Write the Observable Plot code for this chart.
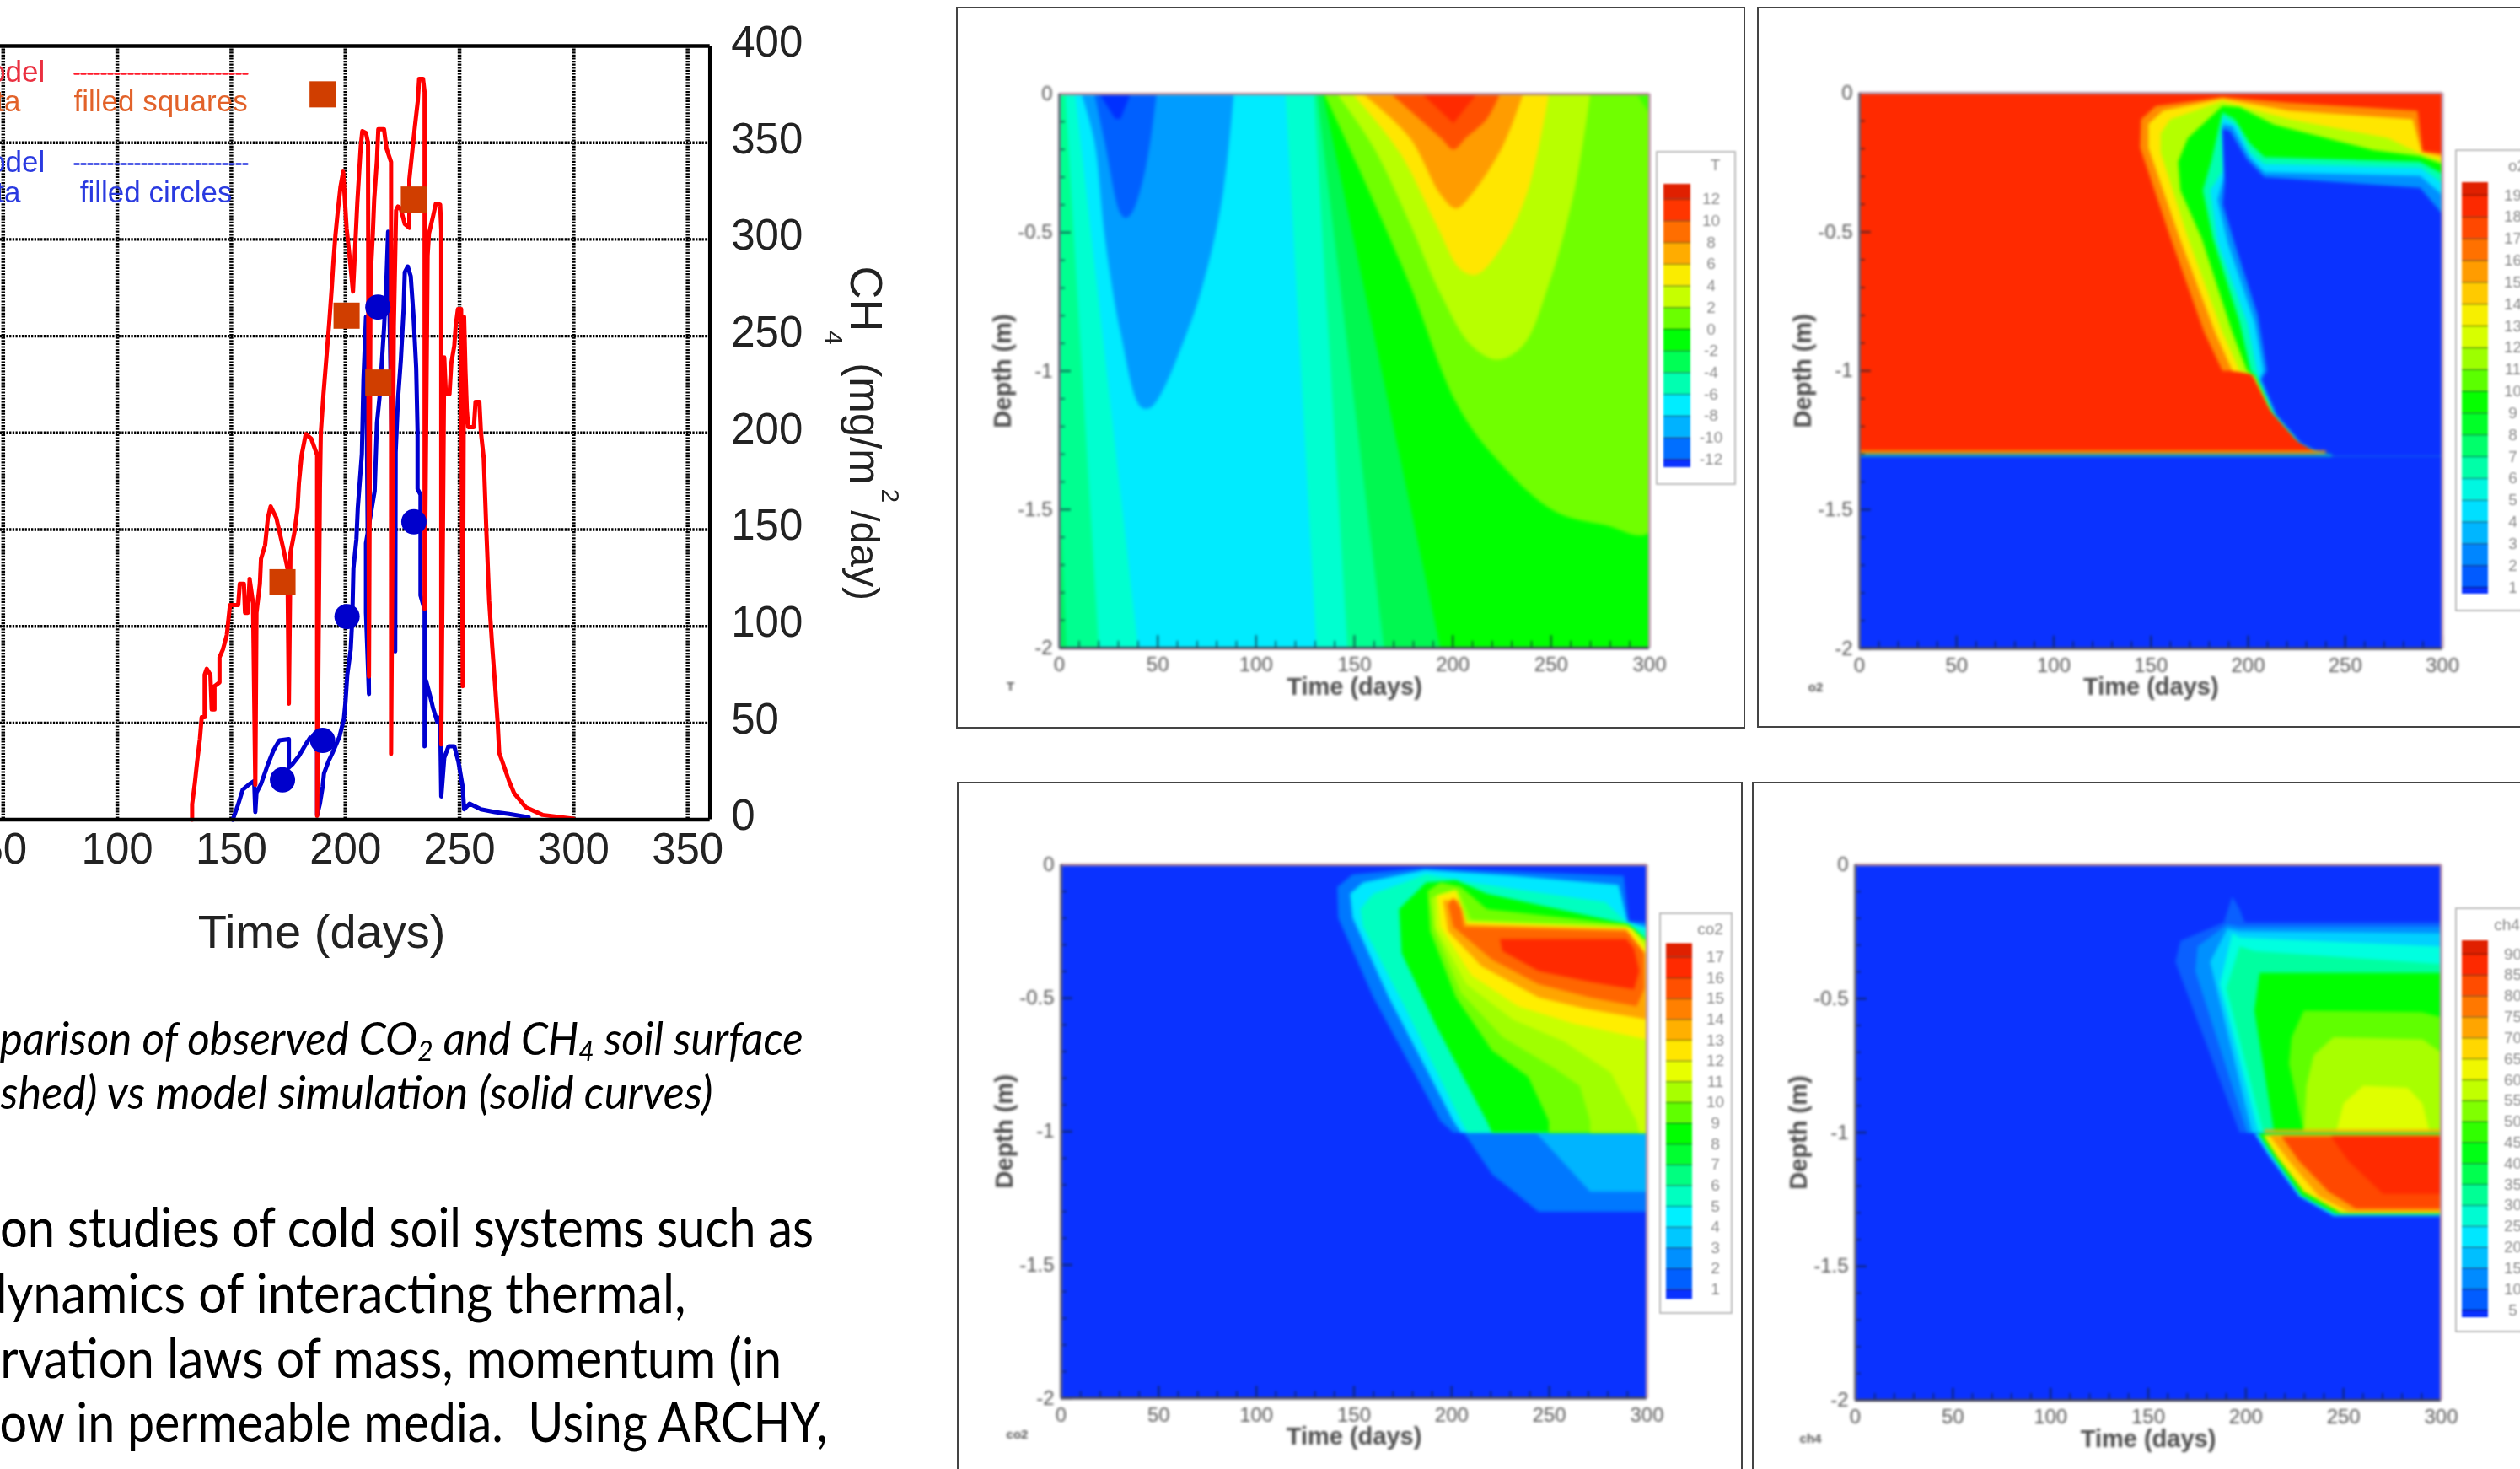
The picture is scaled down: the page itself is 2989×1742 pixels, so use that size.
<!DOCTYPE html>
<html><head><meta charset="utf-8">
<script src="https://cdn.jsdelivr.net/npm/d3@7"></script>
<script src="https://cdn.jsdelivr.net/npm/@observablehq/plot@0.6"></script>
<style>
html,body{margin:0;padding:0;background:#fff}
#page{position:relative;width:2989px;height:1742px;overflow:hidden;background:#fff}
#page svg{position:absolute;max-width:none}
.frame{position:absolute;border:2.5px solid #444;box-sizing:border-box;filter:blur(.5px)}
.t{position:absolute;white-space:pre;line-height:1;font-family:Lato,sans-serif;color:#000;transform-origin:right center}
.t sub{font-size:.62em;line-height:0;vertical-align:-.22em}
</style></head><body><div id="page"></div>
<script>
// ---------- left chart data (day, CH4 flux) ----------
const redModel=[[132.8,0],[132.8,8],[134,19],[135,30],[136.2,41.7],[137,53],[138.3,53],[138.3,75],[139.2,78],[140.8,75],[141.4,57],[142.6,57],[142.6,69],[144.8,71],[144.8,84],[146.3,88],[148,95.5],[149.4,111],[153,111],[153.7,122],[155.5,122],[156,107],[157.2,107],[158,124.5],[159.5,112],[160.5,18],[161,107],[162.5,122],[163,135],[164.8,142],[166,156],[167.2,162],[169.7,156],[172.8,140],[174.6,130],[175.2,60],[175.9,138],[177.7,149],[179,161],[179.6,174],[180.8,188.5],[182.6,199.4],[185,197],[187.6,188.5],[187.6,2],[188.8,171],[189.2,200],[190.4,220.5],[191.6,238],[192.9,257],[194,275],[194.7,288],[195.6,302],[196.6,314],[197.8,327],[199,335],[200.5,306],[202,289],[203.3,273],[204.2,294.5],[205.2,319],[206.7,348],[207.4,356],[209,355],[209.9,350],[210.3,74],[211,280],[212,303],[212.6,320.6],[213.8,341],[214.4,357],[216.9,357],[218,347],[220,340],[220,34],[221.2,255],[222.2,315],[223,317],[224.2,316],[226,308],[228,306],[228,331],[230.4,358],[231.7,371.5],[232.3,383],[234,383],[234.7,376],[234.7,109],[236,291.6],[236.6,303],[238.4,312],[239.6,318.5],[241.5,318],[242,305],[242,39],[243.3,239],[244,220],[245.6,220],[246.4,236],[247.7,245],[248.3,255],[249.3,264],[250.7,264],[251.4,69],[252,260],[252.6,232],[253.2,212],[253.8,203],[256.3,203],[257,216],[258.7,216],[259.4,200],[260.6,187],[261.8,148],[263,113],[264.3,90],[265.5,71],[266.7,50.4],[267.4,34.5],[269.2,28.6],[271.7,20],[274,13.6],[279,6.5],[286.4,2.5],[300,.5]];
const blueModel=[[150.6,0],[153,8],[155,15.6],[158,18.5],[160,20],[160.5,4],[161,14],[163,18.5],[166,28.6],[168.5,36],[171,41],[175.2,41.7],[175.2,27],[177,29],[179.6,33],[182.6,39],[184.5,42.4],[187.6,42],[187.6,2.5],[188.8,8.3],[190,17],[190.6,24],[192.5,30],[194.3,34.5],[197.4,43],[199.3,52],[200,60.6],[200.8,75],[202.3,88],[203,104],[203.5,130],[204.8,145],[205.4,161],[207.2,189],[207.9,227.6],[209,260],[210.3,65],[209,107],[209,143],[212.8,170],[213.8,205],[215,219],[216.9,254],[218,280],[218.7,304],[219.5,250],[221.8,87],[222,190],[223,217],[224.3,238],[225.5,264],[226,283],[227.3,286],[228.6,281],[229.8,261],[231,233.5],[231.6,201],[231.6,171],[232.9,168],[232.9,116],[234.7,108.6],[234.7,38],[235.3,72],[237.2,63.5],[238.4,57.7],[240.3,50.4],[241.5,53],[242,12],[243.3,32],[245.2,38],[247.7,38],[249.5,30],[251.4,17],[252,5.4],[254.4,8.3],[259.4,5.4],[265.5,4],[271.7,3],[280.3,1.3]];
const squareData=[[190,375],[230,320.6],[200.5,260.6],[214.4,226],[172.4,122.8]];
const circleData=[[172.4,20.6],[190,41],[200.7,105],[230,154],[214.2,265]];
const fluxDayTicks=[50,100,150,200,250,300,350];
const fluxValueTicks=[0,50,100,150,200,250,300,350,400];

// ---------- contour panels: painter-ordered bands [colour, [[day,depth],...], smooth?] ----------
const tempBands=[
["#00ffd0",[[0,0],[8,0],[40,-2],[0,-2]]],
["#00ff90",[[0,0],[3,0],[20,-2],[0,-2]]],
["#00f060",[[0,-1.4],[3.5,-2],[0,-2]]],
["#009cff",[[11.3,0],[17.9,-.174],[23.1,-.515],[31,-.857],[41.5,-1.13],[46.7,-1.13],[65.1,-.857],[75.6,-.618],[83.5,-.345],[88.7,0]],true],
["#0060ff",[[17.9,0],[23.1,-.174],[31,-.43],[33.6,-.447],[36.8,-.43],[44.1,-.26],[49.4,0]],true],
["#0030ff",[[20.5,0],[28.4,-.09],[31,-.09],[36.2,0]]],
["#00ffd0",[[115,0],[130.7,-2],[300,-2],[300,0]]],
["#00ff90",[[129.4,0],[146.5,-2],[300,-2],[300,0]]],
["#00f850",[[131,0],[165,-2],[300,-2],[300,0]]],
["#00ff00",[[134,0],[193.7,-2],[300,-2],[300,0]]],
["#70ff00",[[134.7,0],[151.7,-.26],[178,-.686],[201.6,-1.113],[220,-1.3],[251.5,-1.505],[277.7,-1.556],[300,-1.582],[300,0]],true],
["#40ff00",[[293.5,0],[300,-.07],[300,0]]],
["#b8ff00",[[141.2,0],[159.6,-.191],[178,-.464],[193.7,-.72],[209.5,-.908],[222.6,-.959],[235.7,-.908],[248.9,-.686],[262,-.345],[269.9,0]],true],
["#ffe600",[[149.1,0],[172.7,-.208],[191.1,-.464],[204.2,-.635],[212.1,-.652],[225.2,-.549],[238.4,-.345],[248.9,0]],true],
["#ff9c00",[[154.4,0],[178,-.157],[193.7,-.362],[201.6,-.413],[209.5,-.362],[225.2,-.191],[235.7,0]],true],
["#ff5000",[[168.8,0],[193.7,-.157],[200.3,-.2],[206.9,-.157],[217.4,-.089],[223.9,0]],true],
["#ff2a00",[[184.5,0],[200.3,-.106],[212.1,0]]]
];
const o2Bands=[
["#ff2a00",[[-10,.05],[310,.05],[310,-1.3],[-10,-1.3]]],
["#ff8c00",[[186.8,-.014],[152.5,-.046],[144.9,-.094],[144.4,-.196],[160,-.52],[177.4,-.861],[186.8,-1],[201.3,-1],[211,-1.134],[223.7,-1.236],[236.4,-1.296],[244,-1.301],[300,-1.301],[300,-.217],[289.8,-.21],[287.2,-.063],[221.2,-.034]]],
["#ffe600",[[186.8,-.02],[156.3,-.063],[148.7,-.111],[148.7,-.196],[164.7,-.52],[183,-.861],[191.9,-1],[202.1,-1.008],[211.5,-1.134],[224.2,-1.236],[236.4,-1.291],[243.5,-1.301],[300,-1.301],[300,-.227],[289.3,-.213],[284.7,-.094],[221.2,-.063]]],
["#b4ff00",[[186.8,-.029],[160,-.094],[155,-.145],[155,-.213],[169,-.52],[186.8,-.861],[195.7,-1],[202.9,-1.014],[211.8,-1.14],[224.5,-1.24],[236.4,-1.293],[242.8,-1.301],[300,-1.301],[300,-.244],[288.5,-.218],[272,-.162],[221.2,-.094]]],
["#00ff00",[[186.8,-.046],[169,-.162],[164,-.247],[165.2,-.35],[176,-.52],[191.9,-.861],[199.5,-1],[203.4,-1.018],[212.3,-1.147],[225,-1.245],[236.4,-1.296],[242.3,-1.301],[300,-1.301],[300,-.256],[288.5,-.227],[264.4,-.205],[213.5,-.114],[195.7,-.051]]],
["#00ffb0",[[186.8,-.068],[181,-.247],[176.7,-.35],[181.8,-.52],[195.7,-.827],[201.3,-1],[204.6,-1.023],[212.8,-1.15],[225.5,-1.25],[236.8,-1.297],[241.5,-1.303],[300,-1.303],[300,-.29],[288.5,-.247],[208.4,-.23],[200.8,-.179],[193.2,-.094]]],
["#00e0ff",[[186.8,-.085],[186.8,-.281],[180.5,-.35],[184.3,-.537],[199.5,-.827],[204.6,-1],[205.4,-1.028],[213.3,-1.15],[226,-1.25],[238,-1.297],[244,-1.303],[300,-1.303],[300,-.324],[288.5,-.268],[208.4,-.256],[200.8,-.213],[194.5,-.119]]],
["#0090ff",[[186.8,-.111],[187.6,-.298],[184.3,-.384],[189.4,-.537],[203.4,-.827],[207.9,-1],[206,-1.03],[214,-1.155],[226.5,-1.255],[238.5,-1.3],[245,-1.305],[300,-1.305],[300,-.367],[288.5,-.298],[208.4,-.285],[200.8,-.23],[191.9,-.119]]],
["#0a32ff",[[186.8,-.128],[188,-.32],[187,-.4],[193,-.54],[205,-.8],[209.7,-1],[207,-1.03],[214.6,-1.158],[227,-1.258],[239,-1.305],[245.3,-1.31],[300,-1.31],[300,-.435],[288.5,-.341],[208.4,-.302],[199.5,-.239],[190.6,-.136]]],
["#f0a000",[[0,-1.288],[240,-1.288],[240,-1.3],[0,-1.3]]],
["#00c8c0",[[0,-1.3],[243,-1.3],[243,-1.308],[0,-1.308]]]
];
const co2Bands=[
["#0078ff",[[206.2,-1.004],[220.7,-1.16],[244.5,-1.301],[300,-1.301],[300,-1.004]]],
["#00b4ff",[[243.2,-1.004],[270.9,-1.226],[300,-1.226],[300,-1.004]]],
["#0078ff",[[186.3,-.012],[149.3,-.036],[141.4,-.083],[141.9,-.199],[159.9,-.497],[194.3,-.961],[200.9,-1.004],[300,-1.004],[300,-.215],[290.7,-.212],[288.1,-.041]]],
["#00e8ff",[[186.3,-.02],[154.6,-.066],[148,-.108],[149.3,-.199],[167.8,-.497],[200.9,-.961],[204.8,-1.004],[300,-1.004],[300,-.232],[290,-.215],[285.4,-.075],[231.3,-.041]]],
["#00ffc0",[[186.9,-.036],[159.9,-.108],[153.3,-.166],[154.6,-.232],[175.8,-.53],[204.8,-.961],[208,-1.004],[300,-1.004],[300,-.249],[289.4,-.215],[278.8,-.141],[218,-.075]]],
["#00ff00",[[186.9,-.066],[173.1,-.166],[174.4,-.331],[191.6,-.597],[218,-.961],[220.7,-1.004],[300,-1.004],[300,-.282],[290.7,-.224],[218,-.108],[202.2,-.058]]],
["#70ff00",[[187.7,-.099],[189,-.249],[202.2,-.497],[220.7,-.696],[239.2,-.795],[249.8,-.961],[249.8,-1.004],[300,-1.004],[300,-.285],[289.4,-.224],[218,-.166],[204.8,-.083],[194.3,-.066]]],
["#a0ff00",[[189,-.124],[191.6,-.249],[204.8,-.48],[226,-.646],[252.4,-.762],[265.6,-.829],[270.9,-.961],[270.9,-1.004],[300,-1.004],[300,-.29],[289.4,-.229],[210.1,-.207],[203.5,-.099]]],
["#c8ff00",[[191.6,-.116],[191.6,-.232],[207.5,-.447],[231.3,-.58],[257.7,-.663],[281.5,-.779],[294.7,-.961],[296,-1.004],[300,-1.004],[300,-.298],[290.7,-.232],[207.5,-.212],[202.2,-.091]]],
["#ffee00",[[192.9,-.116],[194.3,-.232],[210.1,-.414],[233.9,-.53],[263,-.597],[300,-.655],[300,-.323],[292,-.24],[207.5,-.215],[202.2,-.099]]],
["#ffa500",[[195.6,-.133],[198.2,-.249],[215.4,-.381],[244.5,-.497],[268.3,-.539],[300,-.58],[298.7,-.331],[289.4,-.24],[207.5,-.224],[203.5,-.133]]],
["#ff6600",[[198.2,-.149],[200.9,-.232],[220.7,-.356],[244.5,-.447],[270.9,-.497],[294.7,-.53],[298.7,-.464],[298.7,-.331],[289.4,-.249],[206.2,-.232],[204.8,-.166],[200.9,-.124]]],
["#ff2a00",[[224.7,-.278],[226,-.323],[244.5,-.398],[270.9,-.439],[293.4,-.467],[296,-.398],[293.4,-.315],[289.4,-.278]]]
];
const ch4Bands=[
["#0a60ff",[[193,-.119],[188.7,-.215],[166.5,-.284],[163.9,-.363],[196.8,-1],[300,-1],[300,-.215],[199.4,-.215],[196.8,-.165]]],
["#0090ff",[[190.5,-.223],[175.3,-.305],[174.1,-.396],[200.6,-1],[300,-1],[300,-.231],[196.8,-.231]]],
["#00d0ff",[[190.5,-.239],[181.7,-.363],[203.2,-1],[300,-1],[300,-.256],[196.8,-.248]]],
["#00ffe0",[[193,-.256],[186.7,-.446],[206.4,-1],[300,-1],[300,-.305],[196.8,-.272]]],
["#00ffa0",[[196.8,-.305],[190,-.462],[209,-1],[300,-1],[300,-.371],[204.4,-.322]]],
["#00ff00",[[207,-.404],[204.4,-.545],[214.5,-1],[300,-1],[300,-.404]]],
["#60ff00",[[229.7,-.545],[223.4,-.644],[222.1,-.743],[229.7,-1],[300,-1],[300,-.569],[290,-.55]]],
["#a8ff00",[[244.9,-.644],[234.8,-.71],[231,-.825],[229.7,-1],[300,-1],[300,-.701],[290.4,-.652]]],
["#e0ff00",[[260.1,-.825],[250,-.891],[246.2,-1],[294.2,-1],[290.4,-.891],[282.9,-.833]]],
["#ffaa00",[[209.5,-.99],[300,-.99],[300,-1.003],[209.5,-1.003]]],
["#00e0ff",[[204.4,-1.003],[212,-1.089],[227.2,-1.238],[244.9,-1.312],[300,-1.312],[300,-1.003]]],
["#00ff00",[[206.4,-1.003],[214,-1.089],[228.5,-1.235],[246.2,-1.304],[300,-1.304],[300,-1.003]]],
["#ffe600",[[209,-1.01],[215.8,-1.089],[229.7,-1.221],[248.7,-1.3],[300,-1.3],[300,-1.01]]],
["#ffa000",[[212,-1.01],[222.1,-1.106],[237.3,-1.238],[252.5,-1.295],[300,-1.295],[300,-1.01]]],
["#ff4800",[[218.3,-1.015],[227.2,-1.106],[242.4,-1.221],[256.3,-1.284],[300,-1.284],[300,-1.015]]],
["#ff2a00",[[243.6,-1.015],[252.5,-1.106],[270.2,-1.229],[300,-1.229],[300,-1.015]]]
];
const dayTicks=[0,50,100,150,200,250,300];
const dayMinor=[10,20,30,40,60,70,80,90,110,120,130,140,160,170,180,190,210,220,230,240,260,270,280,290];
const depthTicks=[0,-.5,-1,-1.5,-2];
const depthMinor=[-.1,-.2,-.3,-.4,-.6,-.7,-.8,-.9,-1.1,-1.2,-1.3,-1.4,-1.6,-1.7,-1.8,-1.9];
const tempLevels=[-12,-10,-8,-6,-4,-2,0,2,4,6,8,10,12];
const o2Levels=[1,2,3,4,5,6,7,8,9,10,11,12,13,14,15,16,17,18,19];
const co2Levels=[1,2,3,4,5,6,7,8,9,10,11,12,13,14,15,16,17];
const ch4Levels=[5,10,15,20,25,30,35,40,45,50,55,60,65,70,75,80,85,90];
const rainbow=["#0a32ff","#0060ff","#0090ff","#00c8ff","#00f0ff","#00ffc0","#00ff80","#00ff30","#00ff00","#60ff00","#a8ff00","#e8ff00","#ffe600","#ffb000","#ff8000","#ff5000","#ff2a00","#e02000"];
const BLUE="#0a32ff", CYAN="#00ebff", SANS="Liberation Sans, Arial, sans-serif";
const page=document.getElementById("page");
function place(svg,left,top,blur){svg.style.left=left+"px";svg.style.top=top+"px";svg.style.filter=blur?`blur(${blur}px)`:"none";svg.style.background="transparent";page.appendChild(svg);return svg;}

// ---------- left chart ----------
const pd=d=>d[0], pv=d=>d[1];
const T={fontFamily:SANS,fill:"#222"};
const flux=Plot.plot({width:1100,height:1150,marginLeft:0,marginRight:258.3,marginTop:54,marginBottom:178.4,
 x:{domain:[48.78,359.8],axis:null},y:{domain:[0,400],axis:null},
 marks:[
  Plot.ruleX([50,100,150,200,250,300,350],{stroke:"#000",strokeWidth:4.5,strokeDasharray:"2.2 1.4"}),
  Plot.ruleY([50,100,150,200,250,300,350],{stroke:"#000",strokeWidth:3.4,strokeDasharray:"2.3 1.4"}),
  Plot.line(blueModel,{x:pd,y:pv,stroke:"#0000d0",strokeWidth:5}),
  Plot.line(redModel,{x:pd,y:pv,stroke:"#ff0000",strokeWidth:5}),
  Plot.dot(circleData,{x:pd,y:pv,r:15,fill:"#0000cc",stroke:"none"}),
  Plot.dot(squareData,{x:pd,y:pv,r:17.5,symbol:"square",fill:"#d03e00",stroke:"none"}),
  Plot.ruleY([0,400],{stroke:"#000",strokeWidth:4.5}),
  Plot.ruleX([359.8],{stroke:"#000",strokeWidth:4.5}),
  Plot.text(fluxDayTicks,{x:d=>d,text:d=>String(d),frameAnchor:"bottom",lineAnchor:"middle",dy:36,fontSize:51,...T}),
  Plot.text(fluxValueTicks,{y:d=>d,text:d=>String(d),frameAnchor:"right",textAnchor:"start",dx:25,dy:-4,fontSize:51,...T}),
  Plot.text(["Time (days)"],{x:()=>189.6,y:()=>-58.6,text:d=>d,fontSize:56,...T}),
  Plot.text(["CH"],{x:()=>428,y:()=>269.2,text:d=>d,rotate:90,fontSize:54,...T}),
  Plot.text(["4"],{x:()=>413.8,y:()=>249.2,text:d=>d,rotate:90,fontSize:30,...T}),
  Plot.text(["(mg/m"],{x:()=>427,y:()=>204.7,text:d=>d,rotate:90,fontSize:51,...T}),
  Plot.text(["2"],{x:()=>438.5,y:()=>167.5,text:d=>d,rotate:90,fontSize:30,...T}),
  Plot.text(["/day)"],{x:()=>427,y:()=>136.7,text:d=>d,rotate:90,fontSize:48,...T}),
  Plot.line([[81.3,385.6],[157,385.6]],{x:pd,y:pv,stroke:"#ff1a2a",strokeWidth:2.5,strokeDasharray:"5 3"}),
  Plot.line([[81.3,339],[157,339]],{x:pd,y:pv,stroke:"#1a2ae0",strokeWidth:2.5,strokeDasharray:"5 3"}),
  Plot.text(["filled squares"],{x:()=>119,y:()=>371.2,text:d=>d,fontSize:35,fontFamily:SANS,fill:"#e2622a"}),
  Plot.text(["filled circles"],{x:()=>117,y:()=>324,text:d=>d,fontSize:35,fontFamily:SANS,fill:"#2a3ae0"}),
  Plot.text(["model"],{x:()=>68.3,y:()=>386.5,text:d=>d,textAnchor:"end",fontSize:35,fontFamily:SANS,fill:"#ea3040"}),
  Plot.text(["data"],{x:()=>57.6,y:()=>371.2,text:d=>d,textAnchor:"end",fontSize:35,fontFamily:SANS,fill:"#e2622a"}),
  Plot.text(["model"],{x:()=>68.3,y:()=>339.9,text:d=>d,textAnchor:"end",fontSize:35,fontFamily:SANS,fill:"#2a3ae0"}),
  Plot.text(["data"],{x:()=>57.6,y:()=>324,text:d=>d,textAnchor:"end",fontSize:35,fontFamily:SANS,fill:"#2a3ae0"})
 ]});
place(flux,0,0,.6);

// ---------- contour panels ----------
function contour({bands,base=BLUE,L,R,Tp,B,tag,tagDx,tagDy}){
 const m={l:110,r:40,t:14,b:90};
 const ink="#4a4a4a", tick="#123";
 const svg=Plot.plot({width:R-L+m.l+m.r,height:B-Tp+m.t+m.b,marginLeft:m.l,marginRight:m.r,marginTop:m.t,marginBottom:m.b,
  x:{domain:[0,300],axis:null},y:{domain:[-2,0],axis:null},
  marks:[
   Plot.frame({fill:base,stroke:"none"}),
   ...bands.map(([c,pts,smooth])=>Plot.line(pts,{x:pd,y:pv,fill:c,stroke:"none",curve:smooth?"catmull-rom":"linear",clip:true,imageFilter:"blur(1.4px)"})),
   Plot.ruleX(dayTicks,{x:d=>d,y1:-2,y2:-1.955,stroke:tick,strokeOpacity:.6,strokeWidth:2.5}),
   Plot.ruleX(dayMinor,{x:d=>d,y1:-2,y2:-1.975,stroke:tick,strokeOpacity:.6,strokeWidth:2}),
   Plot.ruleY(depthTicks,{y:d=>d,x1:0,x2:6,stroke:tick,strokeOpacity:.6,strokeWidth:2.5}),
   Plot.ruleY(depthMinor,{y:d=>d,x1:0,x2:3,stroke:tick,strokeOpacity:.6,strokeWidth:2}),
   Plot.ruleY([0],{stroke:"#b58a9a",strokeWidth:3}),
   Plot.ruleY([-2],{stroke:"#445",strokeWidth:3}),
   Plot.ruleX([0],{stroke:"#667",strokeWidth:3}),
   Plot.ruleX([300],{stroke:"#c09ab0",strokeWidth:3}),
   Plot.text(dayTicks,{x:d=>d,text:d=>String(d),frameAnchor:"bottom",lineAnchor:"middle",dy:20,fontSize:24,fontFamily:SANS,fill:"#555"}),
   Plot.text(depthTicks,{y:d=>d,text:d=>String(d),frameAnchor:"left",textAnchor:"end",dx:-8,fontSize:24,fontFamily:SANS,fill:"#555"}),
   Plot.text(["Time (days)"],{x:()=>150,text:d=>d,frameAnchor:"bottom",lineAnchor:"middle",dy:46,fontSize:29,fontWeight:"bold",fontFamily:SANS,fill:ink}),
   Plot.text(["Depth (m)"],{y:()=>-1,text:d=>d,frameAnchor:"left",textAnchor:"middle",dx:-67,rotate:-90,fontSize:29,fontWeight:"bold",fontFamily:SANS,fill:ink}),
   Plot.text([tag],{text:d=>d,frameAnchor:"bottom-left",dx:tagDx,dy:tagDy,textAnchor:"middle",lineAnchor:"middle",fontSize:15,fontWeight:"bold",fontFamily:SANS,fill:"#555"})
  ]});
 place(svg,L-m.l,Tp-m.t,1.4);
}
function legend({levels,title,L,Tp,W,H,swL,swR,swT,swB,topY,botY,labelCx,titleCx,titleY}){
 const lo=levels[0],hi=levels[levels.length-1],unit=(botY-topY)/(hi-lo);
 const edges=[lo-(swB-botY)/unit,...levels,hi+(topY-swT)/unit];
 const cols=d3.quantize(d3.piecewise(d3.interpolateRgb,rainbow),edges.length-1);
 const rows=cols.map((c,i)=>({a:edges[i],b:edges[i+1],c}));
 const svg=Plot.plot({width:W,height:H,margin:0,
  x:{domain:[0,1],range:[swL-L,swR-L],axis:null},y:{domain:[lo,hi],range:[botY-Tp,topY-Tp],axis:null},
  marks:[
   Plot.rect(rows,{x1:()=>0,x2:()=>1,y1:"a",y2:"b",fill:"c",stroke:"none"}),
   Plot.ruleY(levels,{x1:0,x2:1,stroke:"#000",strokeOpacity:.28,strokeWidth:2}),
   Plot.text(levels,{y:d=>d,text:d=>String(d),frameAnchor:"left",textAnchor:"middle",dx:labelCx-L,fontSize:19,fontFamily:SANS,fill:"#888"}),
   Plot.text([title],{text:d=>d,frameAnchor:"top-left",dx:titleCx-L,dy:titleY-Tp,textAnchor:"middle",lineAnchor:"middle",fontSize:19,fontFamily:SANS,fill:"#888"})
  ]});
 place(svg,L,Tp,1.2);
 svg.style.outline="2.5px solid #bbb";svg.style.outlineOffset="-1px";svg.style.background="#fff";
}
[[1133.5,8,936,856],[2083.5,8,1000,855],[1134.7,927,932,900],[2078,927,1000,900]].forEach(([l,t,w,h])=>{
 const d=document.createElement("div");d.className="frame";
 Object.assign(d.style,{left:l+"px",top:t+"px",width:w+"px",height:h+"px"});page.appendChild(d);
});
contour({bands:tempBands,base:CYAN,L:1256,R:1956,Tp:111,B:768,tag:"T",tagDx:-58,tagDy:46});
contour({bands:o2Bands,L:2205,R:2896.5,Tp:109.5,B:768,tag:"o2",tagDx:-52,tagDy:46});
contour({bands:co2Bands,L:1258,R:1953,Tp:1025,B:1657.6,tag:"co2",tagDx:-52,tagDy:43});
contour({bands:ch4Bands,L:2200,R:2895,Tp:1025,B:1660,tag:"ch4",tagDx:-53,tagDy:46});
legend({levels:tempLevels,title:"T",L:1965,Tp:180,W:93,H:394,swL:1973,swR:2005,swT:218,swB:554,topY:235.7,botY:544.3,labelCx:2029,titleCx:2034,titleY:195});
legend({levels:o2Levels,title:"o2",L:2913,Tp:178,W:120,H:546,swL:2920,swR:2951,swT:216,swB:704,topY:231,botY:696,labelCx:2980,titleCx:2985,titleY:196});
legend({levels:co2Levels,title:"co2",L:1969,Tp:1082.5,W:85,H:474,swL:1976,swR:2007,swT:1118,swB:1540,topY:1134,botY:1528,labelCx:2034,titleCx:2028,titleY:1101});
legend({levels:ch4Levels,title:"ch4",L:2913,Tp:1077,W:120,H:502,swL:2920,swR:2951,swT:1115,swB:1562,topY:1131,botY:1553,labelCx:2980,titleCx:2973,titleY:1096});

// ---------- text ----------
function line(hidden,html,right,baseline,fs,italic,visW){
 const d=document.createElement("div");d.className="t";
 d.style.fontSize=fs+"px";d.style.fontStyle=italic?"italic":"normal";
 d.style.right=(2989-right)+"px";d.style.top=(baseline-.887*fs)+"px";
 d.innerHTML=hidden+`<span class="v">${html}</span>`;page.appendChild(d);
 const w=d.querySelector(".v").getBoundingClientRect().width;
 d.style.transform=`scaleX(${visW/w})`;
}
line("Com","parison of observed CO<sub>2</sub> and CH<sub>4</sub> soil surface",953,1252,54,true,953);
line("fluxes (da","shed) vs model simulation (solid curves)",845,1316,54,true,845);
line("Simulati","on studies of cold soil systems such as",965,1480,66,false,965);
line("the d","ynamics of interacting thermal,",814,1558,66,false,805);
line("conse","rvation laws of mass, momentum (in",927,1635,66,false,927);
line("and fl","ow in permeable media.  Using ARCHY,",982,1711,66,false,982);
</script></body></html>
